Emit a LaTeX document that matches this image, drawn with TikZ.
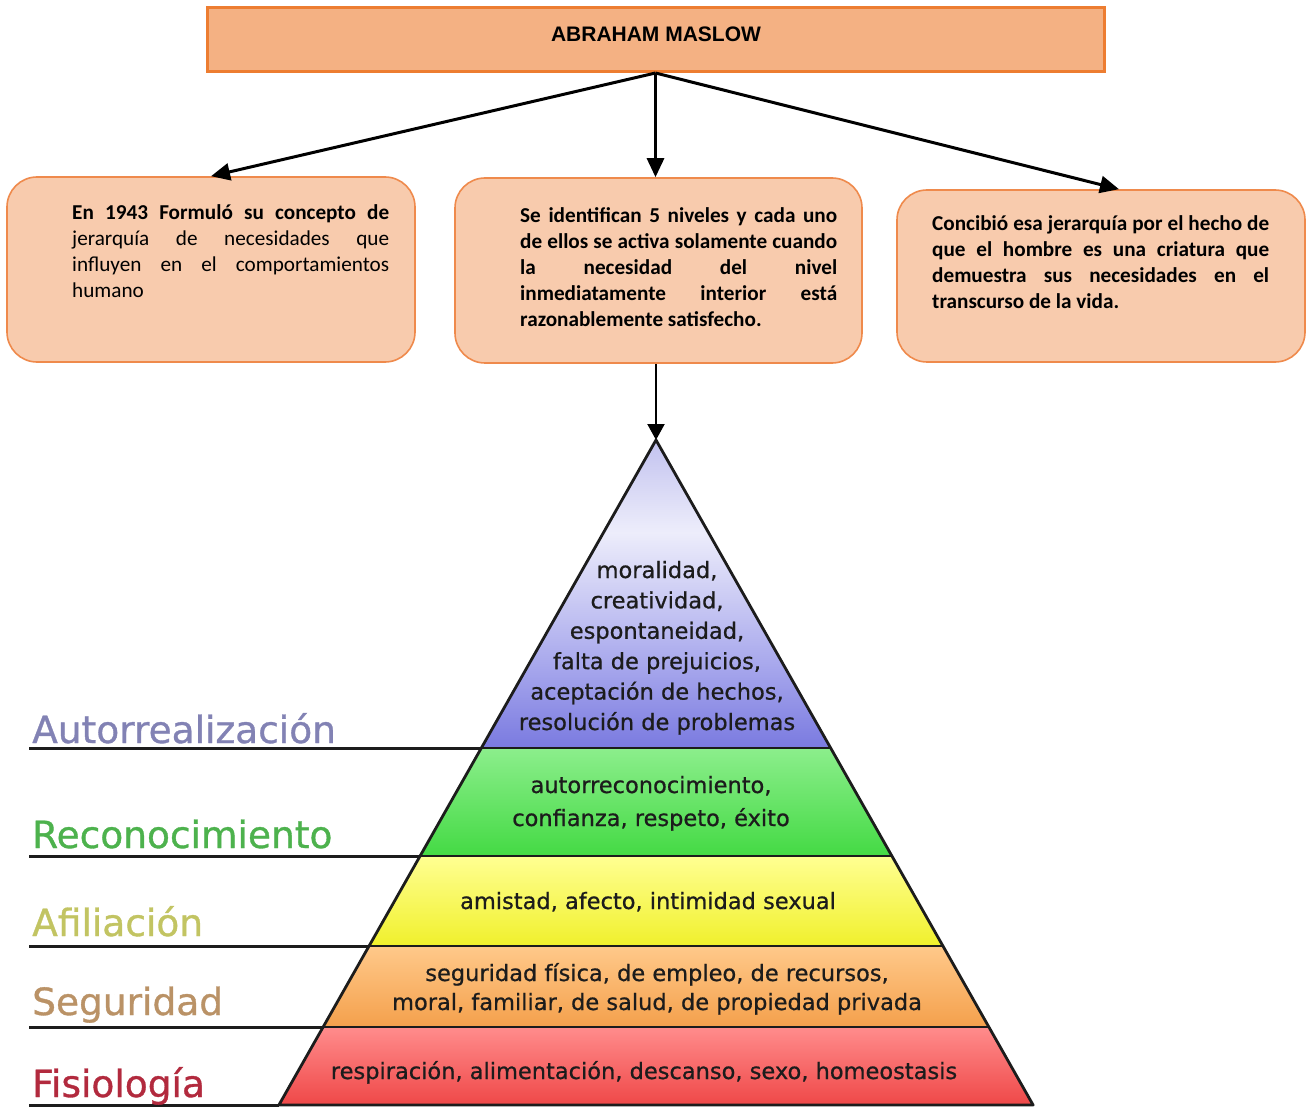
\documentclass[tikz,border=0pt]{standalone}
\usepackage{fontspec}
\setmainfont{Carlito}
\newfontfamily\titlefont{Liberation Sans}
\newfontfamily\pyrfont[FakeBold=0.7]{DejaVu Sans}
\newfontfamily\lvlfont[FakeBold=0.9]{DejaVu Sans}
\usetikzlibrary{arrows.meta}

% box colours
\definecolor{titlefill}{HTML}{F4B183}
\definecolor{titleline}{HTML}{ED7D31}
\definecolor{boxfill}{HTML}{F8CBAD}
\definecolor{boxline}{HTML}{EF8A4C}
% pyramid band colours
\definecolor{aBot}{HTML}{7A7AE0}
\definecolor{aMid}{HTML}{A6A6EC}
\definecolor{aLight}{HTML}{EDEDFB}
\definecolor{aTop}{HTML}{C2C2EF}
\definecolor{gTop}{HTML}{8CEE8C}
\definecolor{gBot}{HTML}{44DA44}
\definecolor{yTop}{HTML}{FFFF92}
\definecolor{yBot}{HTML}{F0F02C}
\definecolor{oTop}{HTML}{FFC98A}
\definecolor{oBot}{HTML}{F4A04C}
\definecolor{rTop}{HTML}{FF8C8C}
\definecolor{rBot}{HTML}{EF4848}
% level label colours
\definecolor{autoC}{HTML}{8282B4}
\definecolor{recoC}{HTML}{4DB24D}
\definecolor{afilC}{HTML}{C2C462}
\definecolor{seguC}{HTML}{BA9266}
\definecolor{fisiC}{HTML}{B22A3E}
\definecolor{inkC}{HTML}{1C1C1C}

% light band in the middle of the top triangle
\pgfdeclareverticalshading{bandA}{100bp}{color(0bp)=(aBot); color(25bp)=(aBot);
  color(38bp)=(aMid); color(60bp)=(aLight); color(75bp)=(aTop); color(100bp)=(aTop)}

% a fully justified line of given width
\newcommand\jline[2]{\makebox[#1][s]{#2}}

\begin{document}
\begin{tikzpicture}[x=1pt,y=-1pt,
  titlebox/.style={draw=titleline, line width=3pt, fill=titlefill, inner sep=0pt},
  titletext/.style={font=\titlefont\bfseries\fontsize{21}{24}\selectfont, inner sep=0pt},
  infobox/.style={draw=boxline, line width=1.6pt, fill=boxfill, rounded corners=30pt, inner sep=0pt},
  boxtext/.style={font=\fontsize{21.2}{26}\selectfont, inner sep=0pt, anchor=base west},
  link/.style={line width=3pt, -{Triangle[length=19pt,width=17pt]}},
  link2/.style={line width=2.2pt, -{Triangle[length=16pt,width=17pt]}},
  pyrline/.style={draw=inkC, line width=2.8pt, line join=round},
  sepline/.style={draw=inkC, line width=3pt},
  pyrtext/.style={font=\pyrfont\fontsize{22.5}{30.4}\selectfont, text=inkC, inner sep=0pt, anchor=base},
  lvl/.style={font=\lvlfont\fontsize{37.5}{40}\selectfont, inner sep=0pt, anchor=base west},
]
\useasboundingbox (0,0) rectangle (1310,1107);
\fill[white] (0,0) rectangle (1310,1107);

% ---- title and the three description boxes ----
\node[titlebox, minimum width=897pt, minimum height=64pt] (maslow) at (655.5,39.5) {};
\node[titletext, anchor=base] (maslowtxt) at (656,42) {ABRAHAM MASLOW};

\node[infobox, minimum width=408pt, minimum height=185pt] (b1) at (211,269.5) {};
\node[infobox, minimum width=407pt, minimum height=185pt] (b2) at (658.5,270.5) {};
\node[infobox, minimum width=408pt, minimum height=172pt] (b3) at (1101,276) {};

\node[boxtext] (t1) at (72,220) {\parbox[t]{317pt}{\fontsize{21.2}{26}\selectfont
  \jline{317pt}{\textbf{En 1943 Formuló su concepto de}}\\
  \jline{317pt}{jerarquía de necesidades que}\\
  \jline{317pt}{influyen en el comportamientos}\\
  humano}};

\node[boxtext] (t2) at (520,223) {\parbox[t]{317pt}{\fontsize{21.2}{26}\selectfont\bfseries
  \jline{317pt}{Se identifican 5 niveles y cada uno}\\
  \jline{317pt}{de ellos se activa solamente cuando}\\
  \jline{317pt}{la necesidad del nivel}\\
  \jline{317pt}{inmediatamente interior está}\\
  razonablemente satisfecho.}};

\node[boxtext] (t3) at (932,231) {\parbox[t]{337pt}{\fontsize{21.2}{26}\selectfont\bfseries
  \jline{337pt}{Concibió esa jerarquía por el hecho de}\\
  \jline{337pt}{que el hombre es una criatura que}\\
  \jline{337pt}{demuestra sus necesidades en el}\\
  transcurso de la vida.}};

% ---- pyramid ----
\coordinate (apex) at (656,440);

\shade[shading=bandA] (apex) -- (830.6,748) -- (481.4,748) -- cycle;
\shade[top color=gTop, bottom color=gBot] (481.4,748) -- (830.6,748) -- (891.9,856) -- (420.1,856) -- cycle;
\shade[top color=yTop, bottom color=yBot] (420.1,856) -- (891.9,856) -- (942.9,946) -- (369.1,946) -- cycle;
\shade[top color=oTop, bottom color=oBot] (369.1,946) -- (942.9,946) -- (988.8,1027) -- (323.2,1027) -- cycle;
\shade[top color=rTop, bottom color=rBot] (323.2,1027) -- (988.8,1027) -- (1033.1,1105) -- (278.9,1105) -- cycle;

% band separators and outline
\draw[pyrline] (481.4,748) -- (830.6,748);
\draw[pyrline] (420.1,856) -- (891.9,856);
\draw[pyrline] (369.1,946) -- (942.9,946);
\draw[pyrline] (323.2,1027) -- (988.8,1027);
\draw[pyrline] (apex) -- (1033.1,1105) -- (278.9,1105) -- cycle;

% level rules on the left
\draw[sepline] (29,748) -- (481.4,748);
\draw[sepline] (29,856) -- (420.1,856);
\draw[sepline] (29,946) -- (369.1,946);
\draw[sepline] (29,1027) -- (323.2,1027);
\draw[sepline] (29,1105) -- (278.9,1105);

% level names
\node[lvl, text=autoC] (lautor) at (32,743) {Autorrealización};
\node[lvl, text=recoC] (lreco) at (32,848) {Reconocimiento};
\node[lvl, text=afilC] (lafil) at (32,936) {Afiliación};
\node[lvl, text=seguC] (lsegu) at (32,1015) {Seguridad};
\node[lvl, text=fisiC] (lfisi) at (32,1097) {Fisiología};

% band contents
\node[pyrtext] (pautor) at (657,578) {\parbox[t]{420pt}{\centering
  moralidad,\\ creatividad,\\ espontaneidad,\\ falta de prejuicios,\\ aceptación de hechos,\\ resolución de problemas}};
\node[pyrtext] (preco) at (651,793) {\parbox[t]{420pt}{\centering
  autorreconocimiento,\\[2.6pt] confianza, respeto, éxito}};
\node[pyrtext] (pafil) at (648,909) {amistad, afecto, intimidad sexual};
\node[pyrtext] (psegu) at (657,981) {\parbox[t]{620pt}{\centering
  seguridad física, de empleo, de recursos,\\[-1.4pt] moral, familiar, de salud, de propiedad privada}};
\node[pyrtext] (pfisi) at (644,1079) {respiración, alimentación, descanso, sexo, homeostasis};

% ---- connectors ----
\draw[link] (maslow.south) -- (b1.north);
\draw[link] (maslow.south) -- (maslow.south |- b2.north);
\draw[link] (maslow.south) -- ([xshift=18pt]b3.north);
\draw[link2] (apex |- b2.south) -- (apex);
\end{tikzpicture}
\end{document}
